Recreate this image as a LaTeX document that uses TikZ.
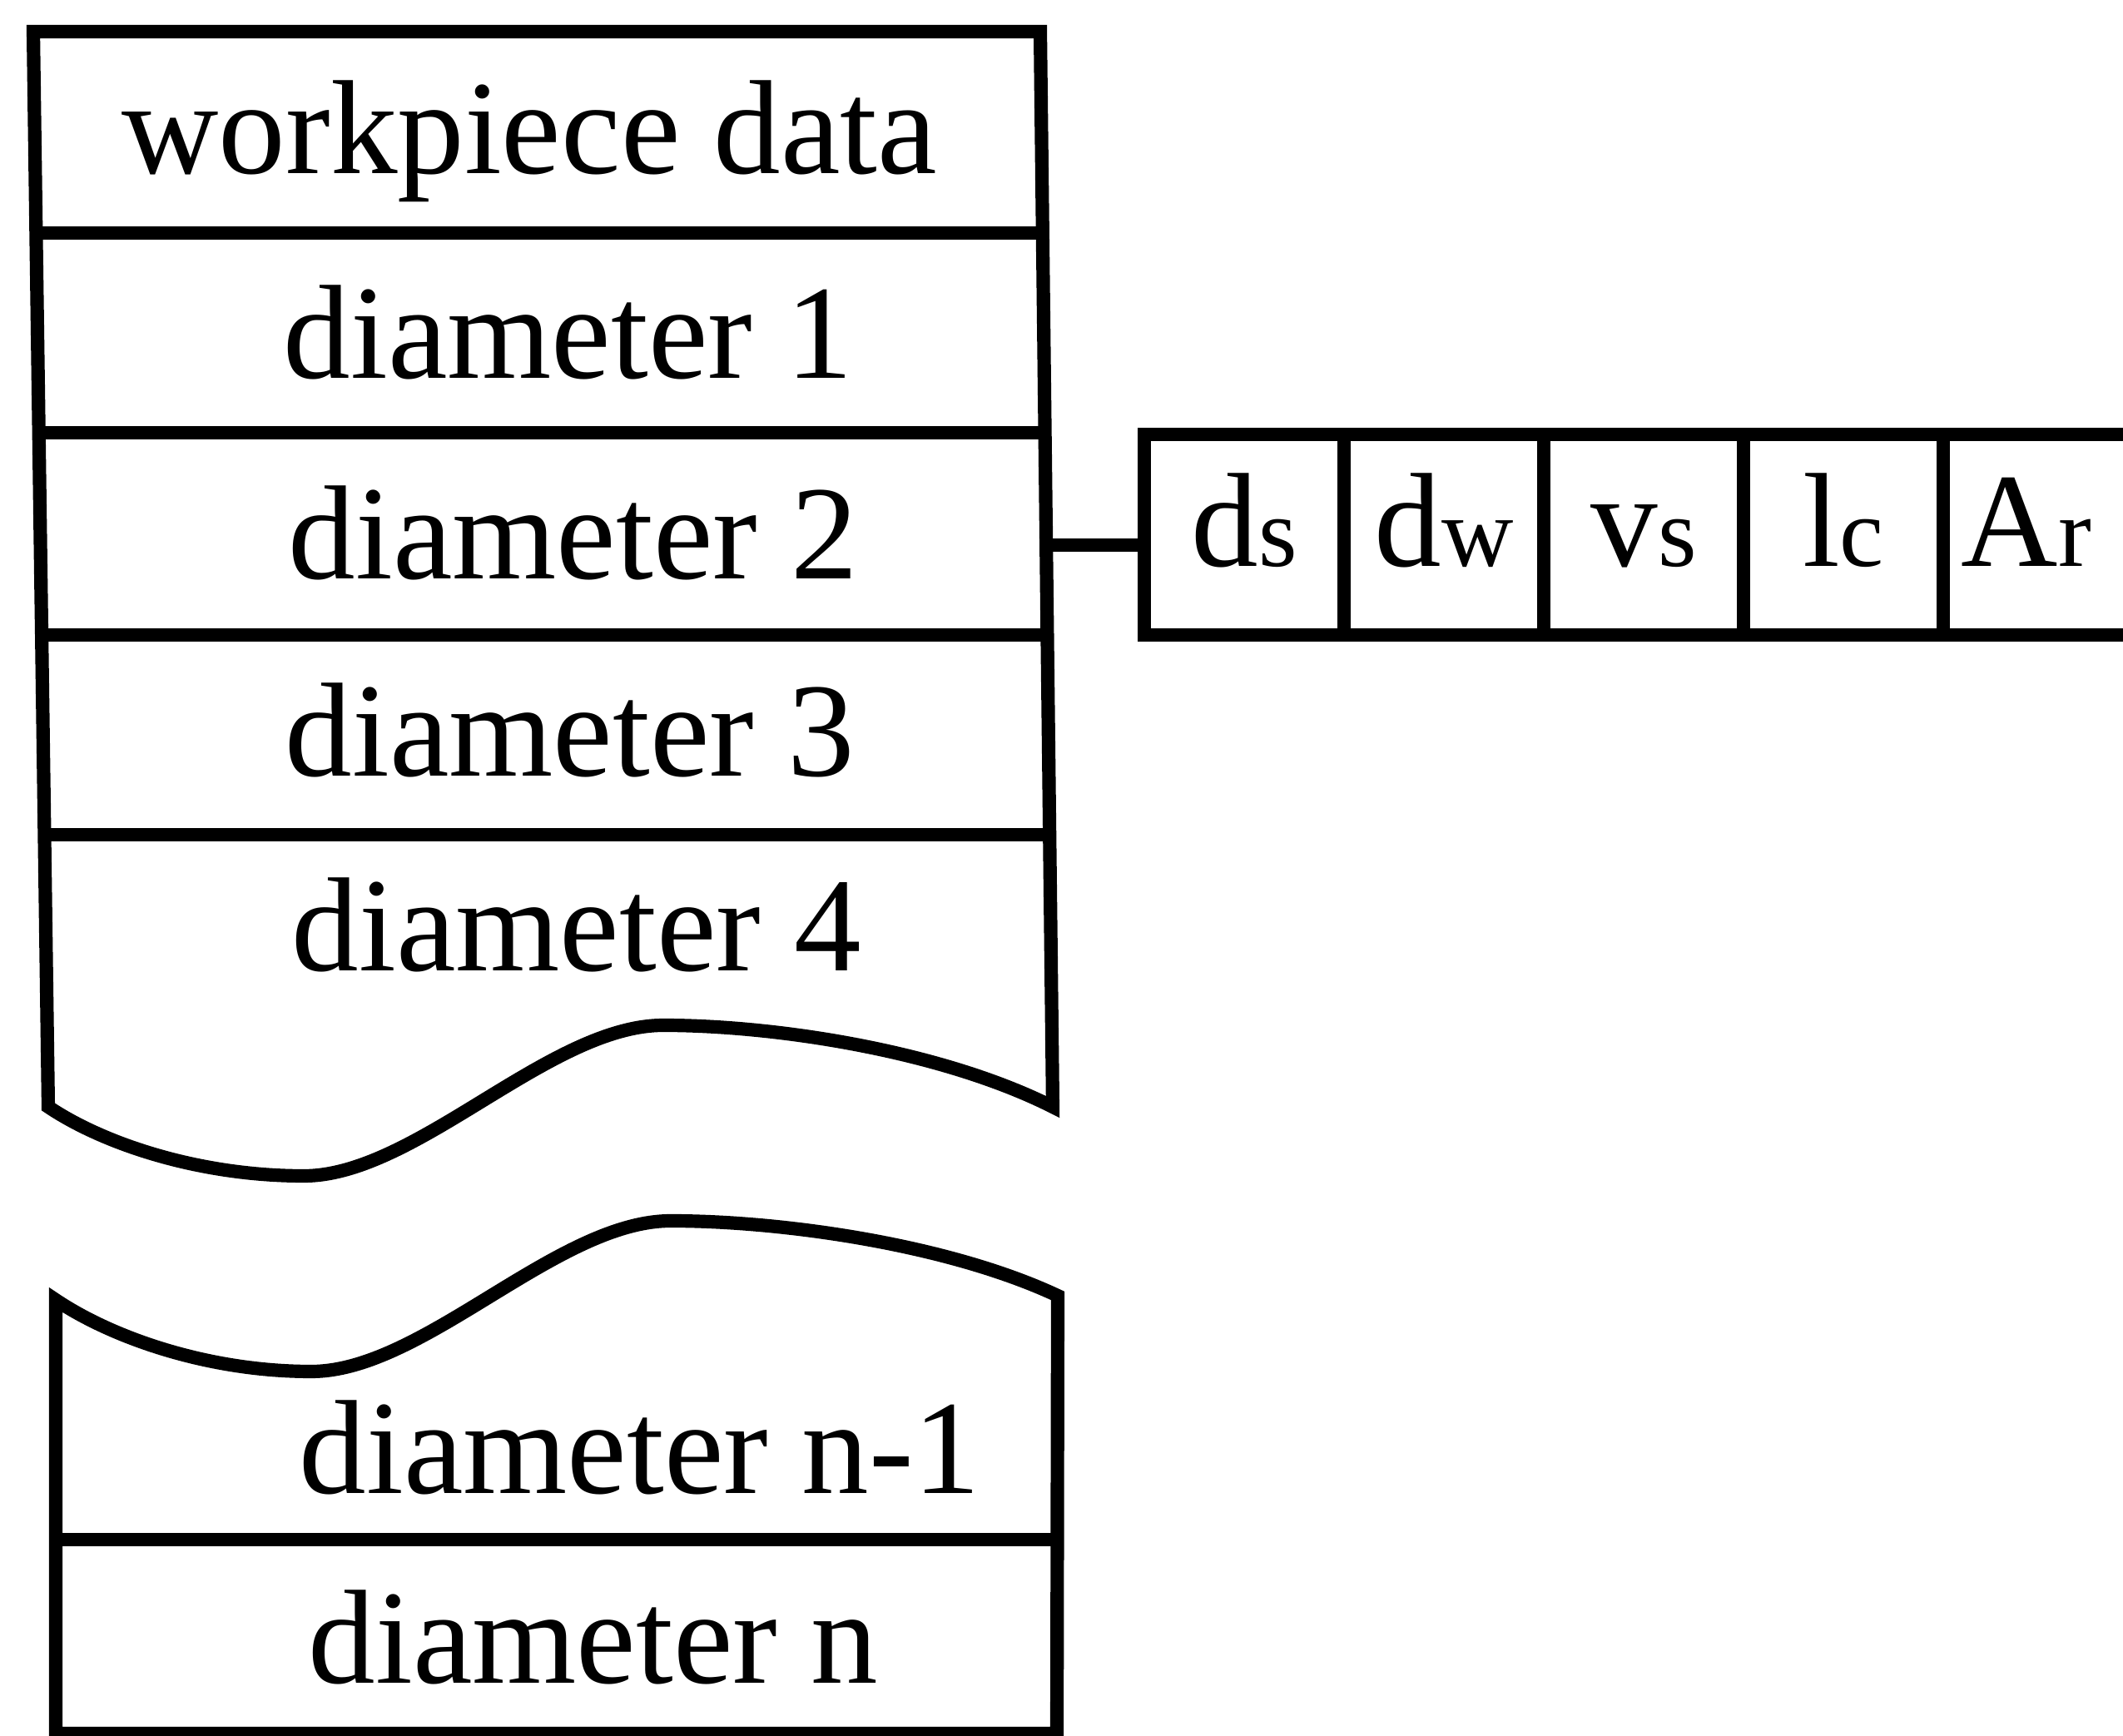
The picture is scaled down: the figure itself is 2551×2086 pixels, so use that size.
\documentclass[tikz,border=0pt]{standalone}
\usepackage{fontspec}
\setmainfont{Liberation Serif}
\begin{document}
\begin{tikzpicture}[x=0.01cm, y=-0.01cm,
  outline/.style={line width=4.6pt, line join=miter},
  label/.style={anchor=base west, inner sep=0pt, font=\fontsize{45.8pt}{50pt}\selectfont},
  cell/.style={draw, line width=4.6pt, rectangle, inner sep=0pt, minimum width=2.4cm,
    text height=1.58cm, text depth=0.83cm, font=\fontsize{45.8pt}{50pt}\selectfont}]
\newcommand{\sub}[1]{{\fontsize{34pt}{40pt}\selectfont #1}}
\useasboundingbox (0,0) rectangle (2551,2086);

% upper part of the record, torn off at the bottom
\draw[outline] (40,38) -- (1250,38) -- (1265,1330)
  .. controls (1130,1262) and (930,1232) .. (797,1232)
  .. controls (660,1232) and (500,1413) .. (365,1413)
  .. controls (240,1413) and (125,1375) .. (58,1330) -- cycle;
% field separators
\draw[outline] (43,280) -- (1253,280);
\draw[outline] (46,520) -- (1256,520);
\draw[outline] (50,763) -- (1258,763);
\draw[outline] (53,1003) -- (1261,1003);

% lower part of the record
\draw[outline] (67,2083) -- (67,1562)
  .. controls (134,1607) and (249,1648) .. (374,1648)
  .. controls (509,1648) and (669,1467) .. (806,1467)
  .. controls (939,1467) and (1139,1495) .. (1271,1557)
  -- (1270,2083) -- cycle;
\draw[outline] (67,1850) -- (1270,1850);

% field names
\node[label] (wp) at (146,209) {workpiece data};
\node[label] (d1) at (340,455) {diameter 1};
\node[label] (d2) at (346,696) {diameter 2};
\node[label] (d3) at (342,933) {diameter 3};
\node[label] (d4) at (350,1167) {diameter 4};
\node[label] (dn1) at (359,1794) {diameter n-1};
\node[label] (dn) at (370,2022) {diameter n};

% parameters of one diameter
\node[cell] (ds) at (1495,642.5) {d\sub{s}};
\node[cell] (dw) at (1735,642.5) {d\sub{w}};
\node[cell] (vs) at (1975,642.5) {v\sub{s}};
\node[cell] (lc) at (2215,642.5) {l\sub{c}};
\node[cell] (ar) at (2455,642.5) {A\sub{r}\kern0.4cm};

% link from diameter 2 to its parameters
\coordinate (colR) at (1257,655);
\draw[outline] (colR) -- (colR -| ds.west);
\end{tikzpicture}
\end{document}
